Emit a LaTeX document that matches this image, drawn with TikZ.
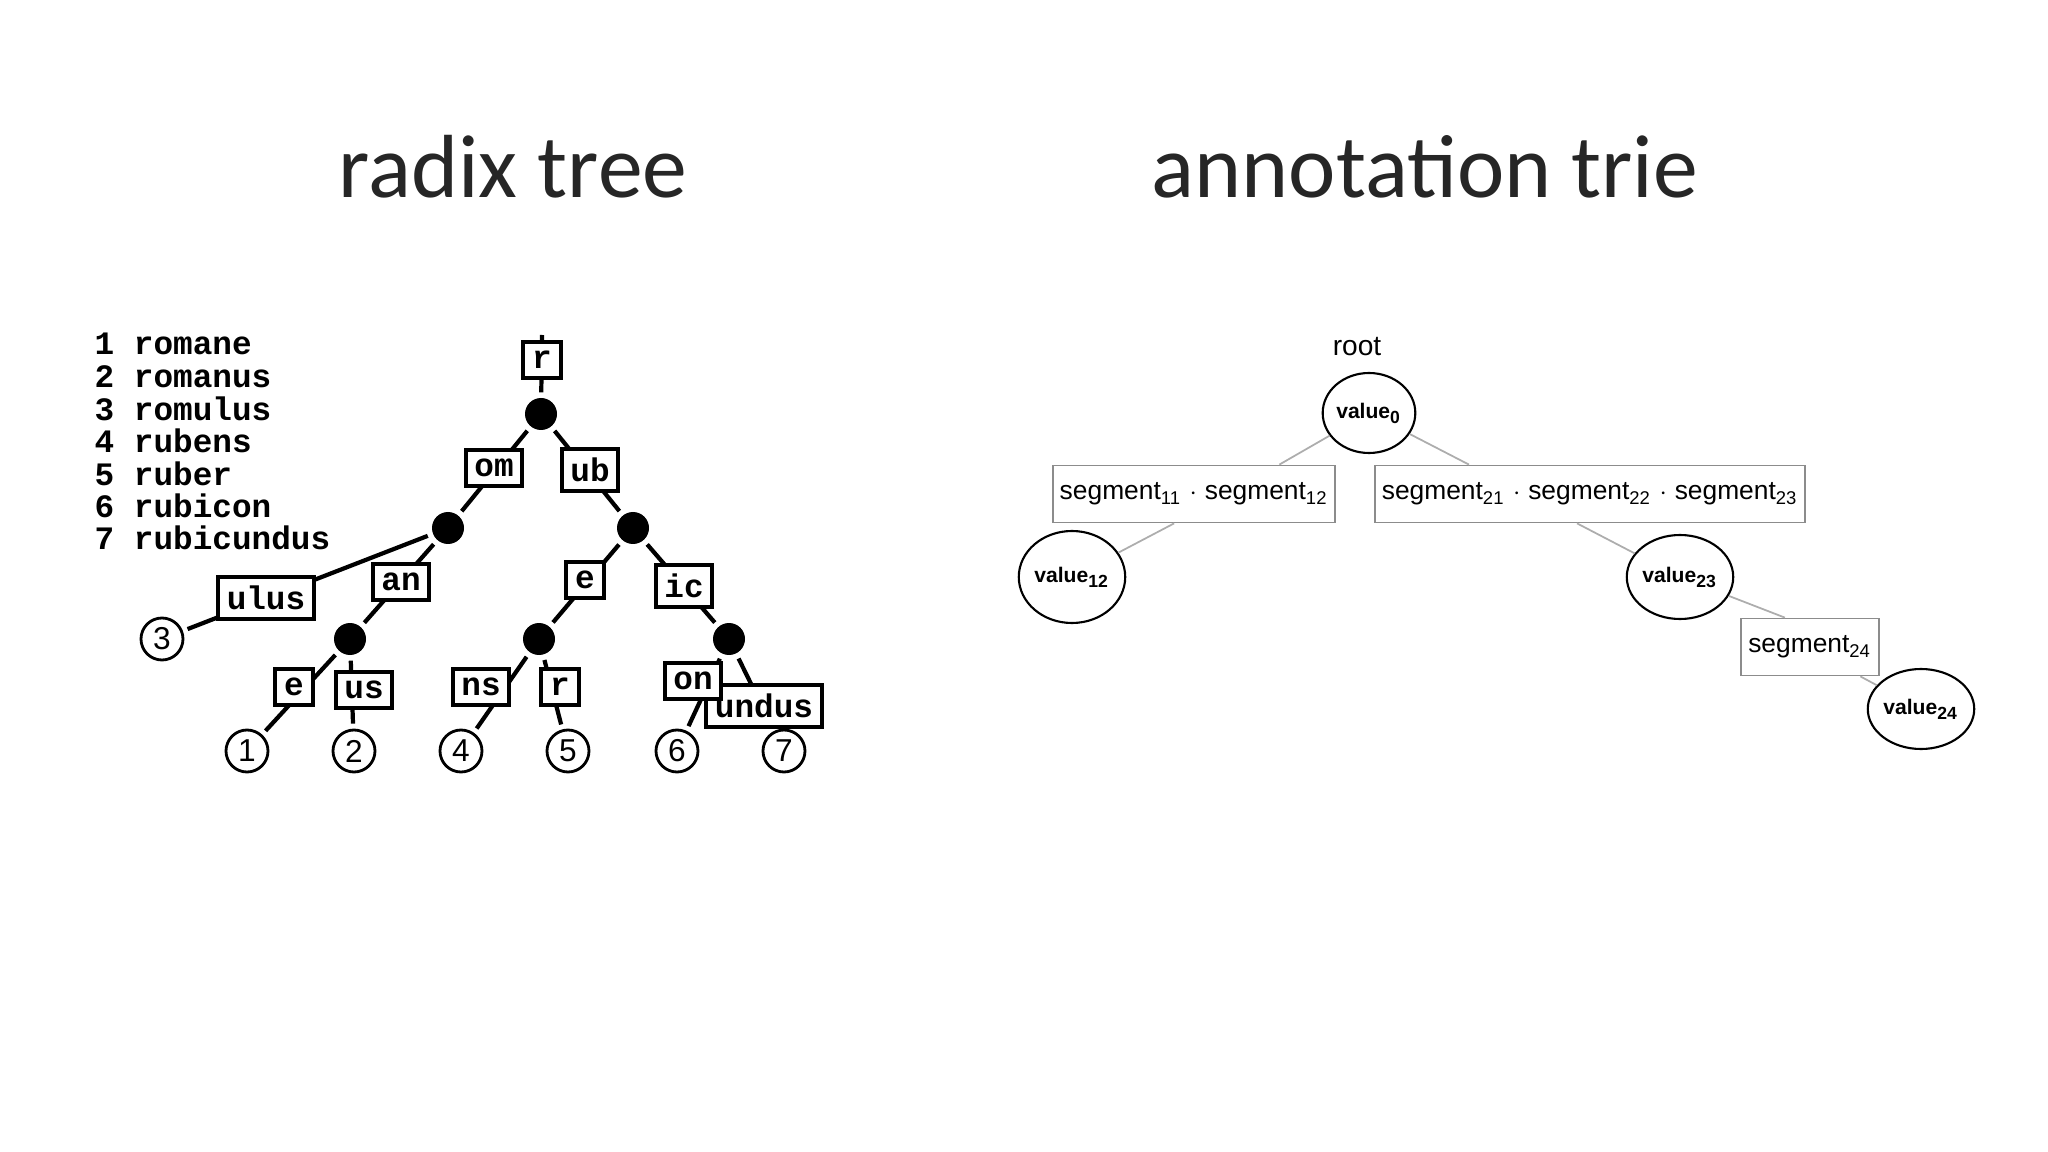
\documentclass[tikz,border=0pt]{standalone}
\usepackage{fontspec}
\usetikzlibrary{calc,shapes.geometric}
\newfontfamily\titlefont{Carlito}
\newfontfamily\monob{Liberation Mono}
\newfontfamily\helv{Liberation Sans}
\definecolor{edgegray}{gray}{0.68}
\definecolor{boxgray}{gray}{0.55}
\tikzset{
  ttl/.style={font=\titlefont\fontsize{25.5}{30}\selectfont, text=black!85},
  lbl/.style={draw, line width=1.1pt, fill=white, inner sep=2.5pt, minimum height=31*0.01cm, font=\monob\bfseries\fontsize{9.3}{10}\selectfont},
  dotn/.style={circle, fill=black, minimum size=32*0.01cm, inner sep=0pt},
  leaf/.style={circle, draw, line width=0.8pt, minimum size=42*0.01cm, inner sep=0pt, font=\helv\fontsize{9}{10}\selectfont},
  tedge/.style={line width=1.2pt, shorten >=5*0.01cm, shorten <=5*0.01cm},
  lst/.style={anchor=base west, inner sep=0pt, font=\monob\bfseries\fontsize{9.3}{10}\selectfont},
  seg/.style={draw=boxgray, line width=0.5pt, minimum height=57*0.01cm, inner sep=2pt, font=\helv\fontsize{7.5}{9}\selectfont},
  val/.style={ellipse, draw, line width=0.6pt, inner sep=0pt, font=\helv\bfseries\fontsize{6}{7}\selectfont},
  gedge/.style={draw=edgegray, line width=0.5pt}
}
\begin{document}
\begin{tikzpicture}[x=0.01cm, y=-0.01cm]
\useasboundingbox (0,0) rectangle (2048,1152);
\node[ttl] (t1) at (513,167) {radix tree};
\node[ttl] (t2) at (1425,167) {annotation trie};
% list
\node[lst] (l1) at (94,355) {1 romane};
\node[lst] (l2) at (94,388) {2 romanus};
\node[lst] (l3) at (94,421) {3 romulus};
\node[lst] (l4) at (94,453) {4 rubens};
\node[lst] (l5) at (94,486) {5 ruber};
\node[lst] (l6) at (94,518) {6 rubicon};
\node[lst] (l7) at (94,550) {7 rubicundus};
% tree nodes
\coordinate (top) at (542,335);
\node[dotn] (d0) at (541,414) {};
\node[dotn] (dL) at (448,528) {};
\node[dotn] (dR) at (633,528) {};
\node[dotn] (dA) at (350,639) {};
\node[dotn] (dE) at (539,639) {};
\node[dotn] (dI) at (729,639) {};
\node[leaf] (n3) at (162,639) {3};
\node[leaf] (n1) at (247,751) {1};
\node[leaf] (n2) at (354,751) {2};
\node[leaf] (n4) at (461,751) {4};
\node[leaf] (n5) at (568,751) {5};
\node[leaf] (n6) at (677,751) {6};
\node[leaf] (n7) at (784,751) {7};
% edges
\draw[tedge, shorten <=0pt] (top) -- (d0);
\draw[tedge] (d0) -- (dL);
\draw[tedge] (d0) -- (dR);
\draw[tedge] (dL) -- (n3);
\draw[tedge] (dL) -- (dA);
\draw[tedge] (dR) -- (dE);
\draw[tedge] (dR) -- (dI);
\draw[tedge] (dA) -- (n1);
\draw[tedge] (dA) -- (n2);
\draw[tedge] (dE) -- (n4);
\draw[tedge] (dE) -- (n5);
\draw[tedge] (dI) -- (n6);
\draw[tedge] (dI) -- (n7);
% labels
\node[lbl] (br) at (542,360) {r};
\node[lbl] (bom) at (494,468) {om};
\node[lbl] (bub) at (590,470) {ub};
\node[lbl] (bulus) at (266,598) {ulus};
\node[lbl] (ban) at (401,582) {an};
\node[lbl] (be) at (585,580) {e};
\node[lbl] (bic) at (684,586) {ic};
\node[lbl] (be2) at (294,687) {e};
\node[lbl] (bus) at (364,690) {us};
\node[lbl] (bns) at (481,687) {ns};
\node[lbl] (br2) at (560,687) {r};
\node[lbl] (bundus) at (764,706) {undus};
\node[lbl] (bon) at (693,681) {on};
% annotation trie
\node[font=\helv\fontsize{8}{9}\selectfont] (root) at (1357,347) {root};
\node[val, minimum width=80*0.01cm, minimum height=80*0.01cm] (v0) at (1369,413) {value\textsubscript{0}};
\node[seg, minimum width=282*0.01cm] (s1) at (1194,494) {segment\textsubscript{11} $\cdot$ segment\textsubscript{12}};
\node[seg, minimum width=424*0.01cm] (s2) at (1590,494) {segment\textsubscript{21} $\cdot$ segment\textsubscript{22} $\cdot$ segment\textsubscript{23}};
\node[val, minimum width=96*0.01cm, minimum height=92*0.01cm] (v12) at (1072,577) {value\textsubscript{12}};
\node[val, minimum width=94*0.01cm, minimum height=84*0.01cm] (v23) at (1680,577) {value\textsubscript{23}};
\node[seg, minimum width=138*0.01cm] (s3) at (1810,647) {segment\textsubscript{24}};
\node[val, minimum width=94*0.01cm, minimum height=80*0.01cm] (v24) at (1921,709) {value\textsubscript{24}};
\coordinate (s1t) at ($(s1.north west)!0.80!(s1.north east)$);
\coordinate (s1b) at ($(s1.south west)!0.43!(s1.south east)$);
\coordinate (s2t) at ($(s2.north west)!0.22!(s2.north east)$);
\coordinate (s2b) at ($(s2.south west)!0.47!(s2.south east)$);
\coordinate (s3t) at ($(s3.north west)!0.32!(s3.north east)$);
\coordinate (s3b) at ($(s3.south west)!0.86!(s3.south east)$);
\draw[gedge] (v0) -- (s1t);
\draw[gedge] (v0) -- (s2t);
\draw[gedge] (s1b) -- (v12);
\draw[gedge] (s2b) -- (v23);
\draw[gedge] (v23) -- (s3t);
\draw[gedge] (s3b) -- (v24);
\end{tikzpicture}
\end{document}
